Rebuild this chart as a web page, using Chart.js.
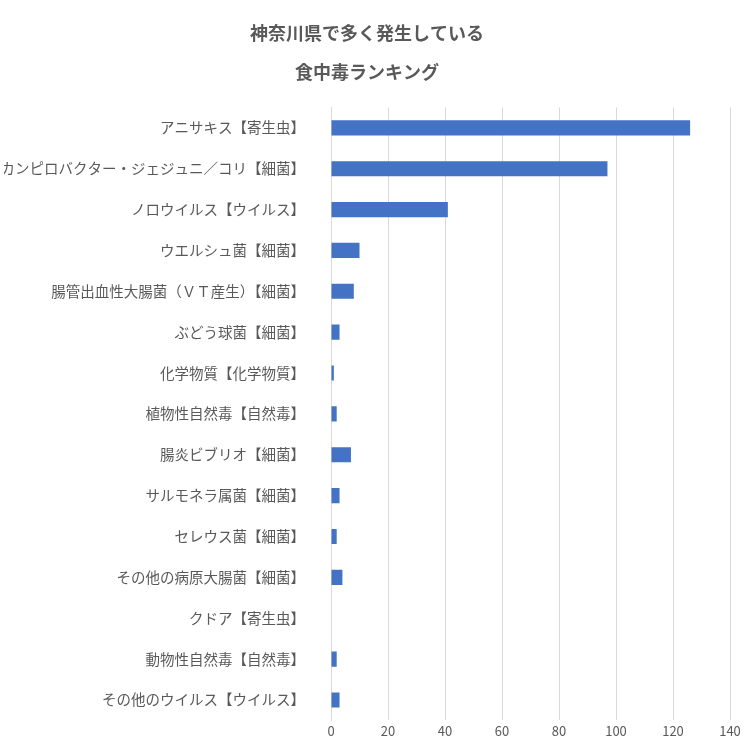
<!DOCTYPE html>
<html><head><meta charset="utf-8">
<script src="https://cdn.jsdelivr.net/npm/chart.js@4"></script>
<style>html,body{margin:0;padding:0;background:#fff}#w{width:756px;height:756px}</style>
</head><body><div id="w"><canvas id="c" width="756" height="756"></canvas></div>
<script>
const categories = ["アニサキス【寄生虫】","カンピロバクター・ジェジュニ／コリ【細菌】","ノロウイルス【ウイルス】","ウエルシュ菌【細菌】","腸管出血性大腸菌（ＶＴ産生）【細菌】","ぶどう球菌【細菌】","化学物質【化学物質】","植物性自然毒【自然毒】","腸炎ビブリオ【細菌】","サルモネラ属菌【細菌】","セレウス菌【細菌】","その他の病原大腸菌【細菌】","クドア【寄生虫】","動物性自然毒【自然毒】","その他のウイルス【ウイルス】"];
const counts = [126,97,41,10,8,3,1,2,7,3,2,4,0,2,3];
const titleLines = ["神奈川県で多く発生している","食中毒ランキング"];
const font = "'Noto Sans CJK JP', 'Noto Sans', sans-serif";
new Chart(document.getElementById('c'), {
  type:'bar',
  data:{labels:categories,datasets:[{data:counts,backgroundColor:'#4472C4',barPercentage:0.37,categoryPercentage:1}]},
  options:{
    indexAxis:'y',responsive:false,animation:false,
    layout:{padding:{left:4,right:26,top:8,bottom:14}},
    plugins:{legend:{display:false},tooltip:{enabled:false},
      title:{display:true,text:titleLines,color:'#595959',font:{family:font,size:18,weight:'bold',lineHeight:2.15},padding:{top:6,bottom:16}}},
    scales:{
      x:{min:0,max:140,ticks:{stepSize:20,color:'#595959',font:{family:font,size:13}},
         grid:{color:'#d9d9d9',drawTicks:false},border:{display:false}},
      y:{ticks:{color:'#595959',font:{family:font,size:14.5},padding:18},
         afterFit:(s)=>{s.width=327;},
         grid:{display:false},border:{color:'#d9d9d9'}}
    }
  }
});
</script></body></html>
